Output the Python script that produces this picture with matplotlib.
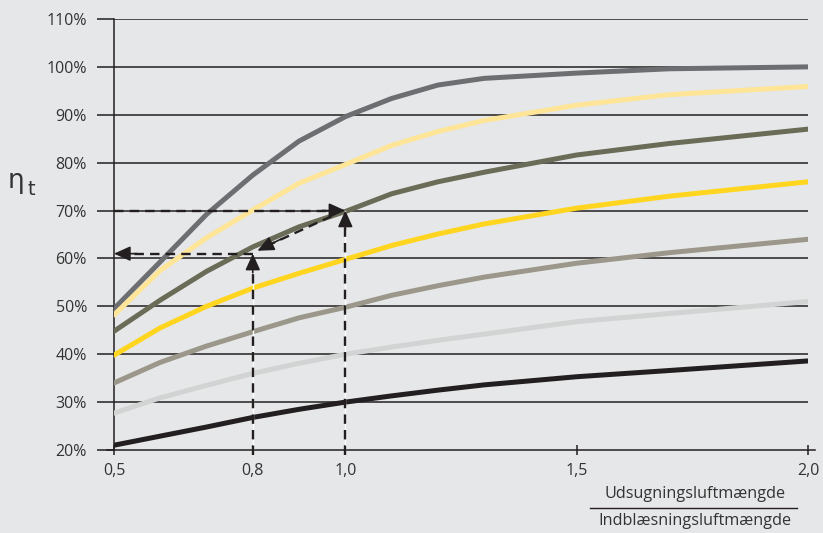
import numpy as np
import matplotlib.pyplot as plt

# ratio of extract air flow to supply air flow
ratio = [0.5, 0.6, 0.7, 0.8, 0.9, 1.0, 1.1, 1.2, 1.3, 1.5, 1.7, 2.0]

# temperature efficiency curves (%)
curve_a = [49.5, 59.3, 69.2, 77.4, 84.5, 89.6, 93.4, 96.2, 97.6, 98.7, 99.6, 100.0]
curve_b = [48.2, 57.5, 64.3, 70.1, 75.7, 79.6, 83.6, 86.5, 88.8, 92.0, 94.2, 95.9]
curve_c = [44.8, 51.3, 57.3, 62.4, 66.6, 69.8, 73.5, 76.0, 78.0, 81.6, 84.0, 87.0]
curve_d = [39.8, 45.5, 50.0, 53.8, 56.9, 59.8, 62.7, 65.1, 67.2, 70.5, 73.0, 76.0]
curve_e = [34.0, 38.3, 41.7, 44.7, 47.6, 49.8, 52.3, 54.3, 56.1, 59.0, 61.2, 64.0]
curve_f = [27.7, 30.9, 33.5, 36.0, 38.1, 40.0, 41.5, 42.9, 44.2, 46.8, 48.5, 51.0]
curve_g = [21.0, 22.9, 24.8, 26.8, 28.5, 30.0, 31.3, 32.5, 33.6, 35.3, 36.6, 38.6]

curves = [curve_a, curve_b, curve_c, curve_d, curve_e, curve_f, curve_g]
colors = ['#6d6e71', '#fee597', '#6b6c57', '#ffd520', '#9b978a', '#d2d3d3', '#231f20']

x_ticks = [0.5, 0.8, 1.0, 1.5, 2.0]
x_labels = ['0,5', '0,8', '1,0', '1,5', '2,0']
y_ticks = [20, 30, 40, 50, 60, 70, 80, 90, 100, 110]
y_labels = ['%d%%' % v for v in y_ticks]

# example reading: ratio 1.0 -> 70 %, ratio 0.8 -> 61 %
ex_hi = (1.0, 70.0)
ex_lo = (0.8, 61.0)

bg = '#e6e7e8'
txt = '#333333'
plt.rcParams['font.family'] = ['Open Sans', 'DejaVu Sans']

fig = plt.figure(figsize=(8.23, 5.33), dpi=100, facecolor=bg)
ax = fig.add_axes([0.1385, 0.1557, 0.8433, 0.8087])
ax.set_facecolor(bg)
ax.set_xlim(0.5, 2.0)
ax.set_ylim(20, 110)

for s in ['top', 'right', 'bottom']:
    ax.spines[s].set_visible(False)
ax.spines['left'].set_color('#231f20')
ax.spines['left'].set_linewidth(1.1)

ax.set_yticks(y_ticks)
ax.set_yticklabels(y_labels)
ax.set_xticks(x_ticks)
ax.set_xticklabels(x_labels)
ax.tick_params(axis='y', length=12.5, width=1.1, color='#231f20', labelsize=11.5,
               labelcolor=txt, pad=7)
ax.tick_params(axis='x', direction='inout', length=7, width=1.1, color='#231f20',
               labelsize=11.5, labelcolor=txt, pad=6)

for v in y_ticks[1:]:
    ax.plot([0.5, 2.0], [v, v], color='#231f20', lw=1.1, zorder=1)
ax.plot([0.485, 2.015], [20, 20], color='#231f20', lw=1.1, clip_on=False, zorder=1)

for c, col in zip(curves, colors):
    ax.plot(ratio, c, color=col, lw=3.6, solid_capstyle='round', zorder=3)

# reading guides
dash = dict(color='#231f20', lw=1.7, dashes=(4, 2.6), zorder=5)
for xv, yv in [ex_lo, ex_hi]:
    ax.plot([xv, xv], [20, yv], color='white', lw=1.0, zorder=4)
    ax.plot([xv, xv], [19, yv - 2], clip_on=False, **dash)
ax.plot([0.5, ex_hi[0] - 0.015], [ex_hi[1], ex_hi[1]], **dash)
ax.plot([ex_hi[0] - 0.03, ex_lo[0] + 0.03], [ex_hi[1] - 1.2, ex_lo[1] + 1.6], **dash)
ax.plot([ex_lo[0], 0.52], [ex_lo[1], ex_lo[1]], **dash)

head = dict(arrowstyle='-|>,head_length=1.0,head_width=0.45', color='#231f20',
            lw=1.2, shrinkA=0, shrinkB=0)
arrows = [
    ((ex_hi[0], ex_hi[1] - 4), ex_hi),
    ((ex_hi[0] - 0.05, ex_hi[1]), ex_hi),
    ((ex_lo[0], ex_lo[1] - 4), ex_lo),
    ((ex_lo[0] + 0.06, ex_lo[1] + 3.0), (ex_lo[0] + 0.01, ex_lo[1] + 0.6)),
    ((0.55, ex_lo[1]), (0.5, ex_lo[1])),
]
for start, end in arrows:
    ax.annotate('', xy=end, xytext=start, arrowprops=head, zorder=6,
                annotation_clip=False)

fig.text(0.009, 0.647, 'η', fontsize=19, color=txt, family=['DejaVu Sans'])
fig.text(0.033, 0.634, 't', fontsize=14, color=txt, family=['DejaVu Sans'])

fig.text(0.845, 0.073, 'Udsugningsluftmængde', ha='center', va='center',
         fontsize=11.7, color=txt)
fig.add_artist(plt.Line2D([0.717, 0.969], [0.047, 0.047], color='#231f20', lw=1.0))
fig.text(0.845, 0.022, 'Indblæsningsluftmængde', ha='center', va='center',
         fontsize=11.7, color=txt)

fig.savefig('out.png', dpi=100, facecolor=bg)
